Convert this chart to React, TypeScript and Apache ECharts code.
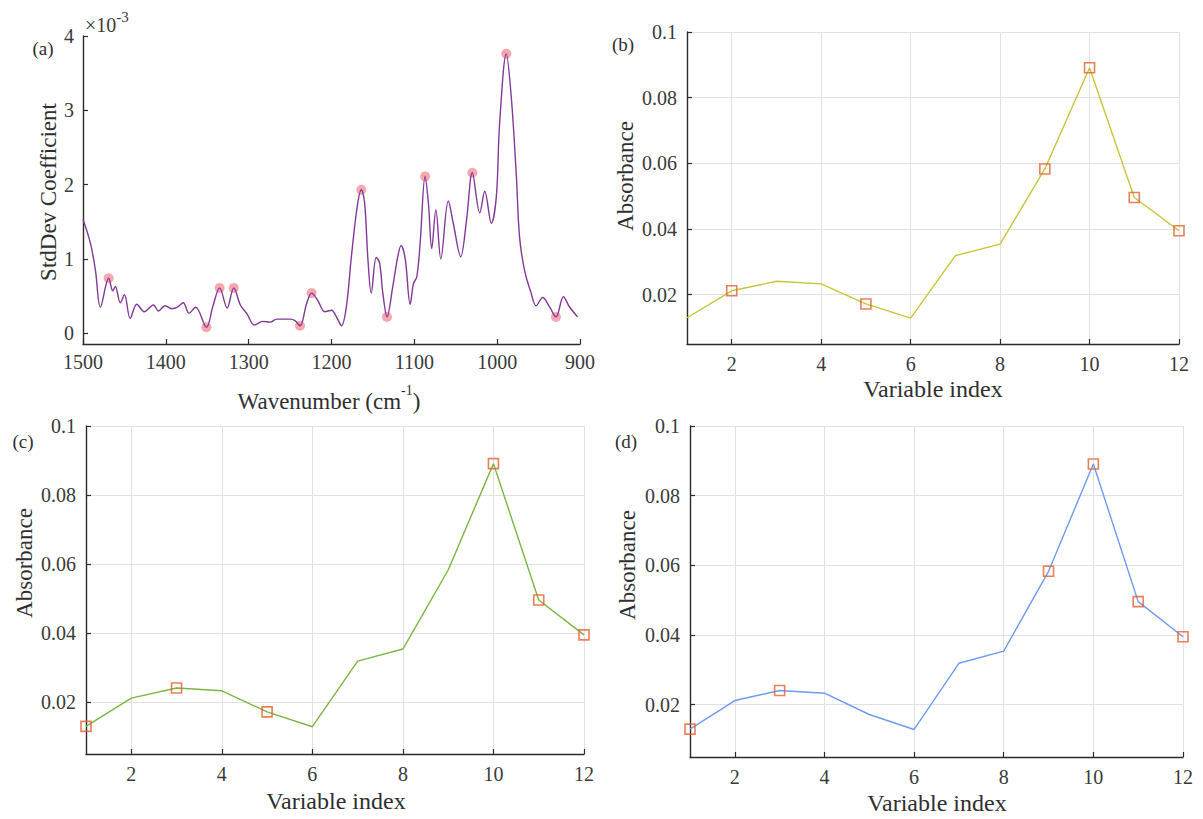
import React, { useEffect, useRef } from "react";
import * as echarts from "echarts";

// Panel (a): StdDev coefficient spectrum (values in units of 1e-3)
const wavenumbers = [
  1500, 1491, 1485, 1479, 1469, 1464, 1461, 1455, 1450, 1443, 1435, 1426, 1415, 1409, 1401, 1393,
  1386, 1379, 1372, 1364, 1351, 1343, 1335, 1326, 1318, 1310, 1302, 1293, 1283, 1274, 1266, 1250,
  1244, 1238, 1230, 1224, 1217, 1208, 1200, 1194, 1188, 1182, 1176, 1169, 1164, 1160, 1156, 1152,
  1146, 1142, 1138, 1133, 1126, 1120, 1116, 1111, 1105, 1101, 1097, 1093, 1087, 1083, 1079, 1074,
  1068, 1059, 1053, 1044, 1037, 1030, 1021, 1015, 1007, 1001, 997, 989, 983, 977, 973, 967, 959,
  953, 945, 937, 929, 920, 913, 903,
];
const stdDevCoef = [
  1.53, 1.21, 0.85, 0.35, 0.74, 0.57, 0.63, 0.41, 0.52, 0.2, 0.39, 0.29, 0.38, 0.3, 0.37, 0.33,
  0.35, 0.41, 0.27, 0.35, 0.08, 0.37, 0.61, 0.34, 0.61, 0.38, 0.26, 0.11, 0.16, 0.15, 0.19, 0.19,
  0.17, 0.1, 0.4, 0.54, 0.45, 0.29, 0.31, 0.22, 0.1, 0.36, 1.03, 1.7, 1.93, 1.75, 0.99, 0.54,
  1.02, 0.95, 0.54, 0.22, 0.63, 1.03, 1.18, 1.0, 0.39, 0.67, 0.76, 1.21, 2.11, 1.75, 1.14, 1.66,
  1.0, 1.78, 1.48, 1.03, 1.52, 2.16, 1.62, 1.91, 1.48, 1.84, 2.83, 3.76, 3.18, 2.15, 1.3, 0.85, 0.54,
  0.37, 0.48, 0.36, 0.22, 0.49, 0.36, 0.22,
];
const markerWavenumbers = [1469, 1351, 1335, 1318, 1238, 1224, 1164, 1133, 1087, 1030, 989, 929];
const markerCoef = [0.74, 0.08, 0.61, 0.61, 0.1, 0.54, 1.93, 0.22, 2.11, 2.16, 3.76, 0.22];
const wavenumberTicks = [1500, 1400, 1300, 1200, 1100, 1000, 900];
const coefTicks = [0, 1, 2, 3, 4];

// Panels (b)-(d): absorbance per variable index
const variableIndex = [1, 2, 3, 4, 5, 6, 7, 8, 9, 10, 11, 12];
const absorbance = [0.013, 0.0212, 0.0241, 0.0233, 0.0172, 0.0129, 0.0319, 0.0354, 0.0583, 0.0891, 0.0496, 0.0395];
const selectedB = [2, 5, 9, 10, 11, 12];
const selectedC = [1, 3, 5, 10, 11, 12];
const selectedD = [1, 3, 9, 10, 11, 12];
const indexTicks = [2, 4, 6, 8, 10, 12];
const absorbanceTicks = [0.02, 0.04, 0.06, 0.08, 0.1];

const FONT = "Liberation Serif";
const AXIS_COLOR = "#2b2b2b";
const LABEL_COLOR = "#3a3a3a";
const GRID_COLOR = "#e2e2e2";
const SQUARE_COLOR = "#e2602f";

export default function App() {
  const ref = useRef<HTMLDivElement>(null);

  useEffect(() => {
    document.body.style.margin = "0";
    const chart = echarts.init(ref.current!, null, { renderer: "svg" });

    const axisLine = { show: true, onZero: false, lineStyle: { color: AXIS_COLOR, width: 1.4 } };
    const axisTick = (vals: number[]) => ({
      show: true,
      inside: true,
      length: 5,
      customValues: vals,
      lineStyle: { color: AXIS_COLOR, width: 1.2 },
    });
    const axisLabel = (vals: number[], margin: number) => ({
      show: true,
      customValues: vals,
      fontSize: 20,
      fontFamily: FONT,
      color: LABEL_COLOR,
      margin,
      formatter: (v: number) => String(v),
    });
    const split = { show: true, lineStyle: { color: GRID_COLOR, width: 1 } };

    const lineData = wavenumbers.map((w, i) => [w, stdDevCoef[i]]);
    const markerData = markerWavenumbers.map((w, i) => [w, markerCoef[i]]);
    const absData = variableIndex.map((v, i) => [v, absorbance[i]]);
    const sel = (s: number[]) => s.map((v) => [v, absorbance[variableIndex.indexOf(v)]]);

    const panelGrids = [
      { left: 83, top: 36, width: 497, height: 308 },
      { left: 687, top: 32, width: 492, height: 312 },
      { left: 86, top: 426, width: 498, height: 328 },
      { left: 690, top: 426, width: 493, height: 331 },
    ];

    const xAxes: any[] = [
      {
        type: "value",
        gridIndex: 0,
        min: 900,
        max: 1500,
        interval: 100,
        inverse: true,
        axisLine,
        axisTick: axisTick(wavenumberTicks),
        axisLabel: axisLabel(wavenumberTicks, 8),
        splitLine: { show: false },
      },
    ];
    const yAxes: any[] = [
      {
        type: "value",
        gridIndex: 0,
        min: -0.145,
        max: 4,
        axisLine,
        axisTick: axisTick(coefTicks),
        axisLabel: axisLabel(coefTicks, 9),
        splitLine: { show: false },
      },
    ];
    for (let g = 1; g <= 3; g++) {
      xAxes.push({
        type: "value",
        gridIndex: g,
        min: 1,
        max: 12,
        axisLine,
        axisTick: axisTick(indexTicks),
        axisLabel: axisLabel(indexTicks, 10),
        splitLine: split,
      });
      yAxes.push({
        type: "value",
        gridIndex: g,
        min: 0.005,
        max: 0.1,
        axisLine,
        axisTick: axisTick(absorbanceTicks),
        axisLabel: axisLabel(absorbanceTicks, 10),
        splitLine: split,
      });
    }

    const lineColors = ["#c9c43a", "#7db544", "#6e9bf0"];
    const selections = [selectedB, selectedC, selectedD];

    const series: any[] = [
      {
        type: "scatter",
        xAxisIndex: 0,
        yAxisIndex: 0,
        data: markerData,
        symbol: "circle",
        symbolSize: 10,
        itemStyle: { color: "#f59fa8", opacity: 0.92 },
        z: 2,
      },
      {
        type: "line",
        xAxisIndex: 0,
        yAxisIndex: 0,
        data: lineData,
        smooth: 0.35,
        showSymbol: false,
        lineStyle: { color: "#813a96", width: 1.4 },
        z: 3,
      },
    ];
    for (let k = 0; k < 3; k++) {
      series.push({
        type: "line",
        xAxisIndex: k + 1,
        yAxisIndex: k + 1,
        data: absData,
        showSymbol: false,
        lineStyle: { color: lineColors[k], width: 1.4 },
        z: 2,
      });
      series.push({
        type: "scatter",
        xAxisIndex: k + 1,
        yAxisIndex: k + 1,
        data: sel(selections[k]),
        symbol: "rect",
        symbolSize: 10,
        itemStyle: { color: "rgba(255,255,255,0)", borderColor: SQUARE_COLOR, borderWidth: 1.6 },
        z: 3,
      });
    }

    const txt = (text: string, x: number, y: number, size: number, rotate = false) => ({
      type: "text",
      x,
      y,
      rotation: rotate ? Math.PI / 2 : 0,
      style: {
        text,
        fontSize: size,
        fontFamily: FONT,
        fill: "#2f2f2f",
        align: "center",
        verticalAlign: "middle",
      },
    });

    const graphic: any[] = [
      txt("(a)", 43, 48, 19),
      txt("(b)", 623, 44, 19),
      txt("(c)", 23, 441, 19),
      txt("(d)", 626, 441, 19),
      {
        type: "text",
        x: 85,
        y: 22,
        style: {
          text: "{a|×10}{s|-3}",
          align: "left",
          verticalAlign: "middle",
          fill: "#3a3a3a",
          rich: {
            a: { fontSize: 20, fontFamily: FONT, fill: "#3a3a3a", lineHeight: 26, verticalAlign: "bottom" },
            s: { fontSize: 15, fontFamily: FONT, fill: "#3a3a3a", lineHeight: 26, verticalAlign: "top" },
          },
        },
      },
      txt("StdDev Coefficient", 48, 192, 23, true),
      {
        type: "text",
        x: 329,
        y: 398,
        style: {
          text: "{a|Wavenumber (cm}{s|-1}{a|)}",
          align: "center",
          verticalAlign: "middle",
          fill: "#2f2f2f",
          rich: {
            a: { fontSize: 23, fontFamily: FONT, fill: "#2f2f2f", lineHeight: 30, verticalAlign: "bottom" },
            s: { fontSize: 14, fontFamily: FONT, fill: "#2f2f2f", lineHeight: 30, verticalAlign: "top" },
          },
        },
      },
      txt("Absorbance", 625, 176, 23, true),
      txt("Absorbance", 24, 563, 23, true),
      txt("Absorbance", 627, 565, 23, true),
      txt("Variable index", 933, 389, 24),
      txt("Variable index", 336, 801, 24),
      txt("Variable index", 937, 803, 24),
    ];

    chart.setOption({
      animation: false,
      backgroundColor: "#ffffff",
      textStyle: { fontFamily: FONT },
      grid: panelGrids,
      xAxis: xAxes,
      yAxis: yAxes,
      series,
      graphic,
    });

    return () => chart.dispose();
  }, []);

  return <div ref={ref} style={{ width: 1203, height: 819 }} />;
}
